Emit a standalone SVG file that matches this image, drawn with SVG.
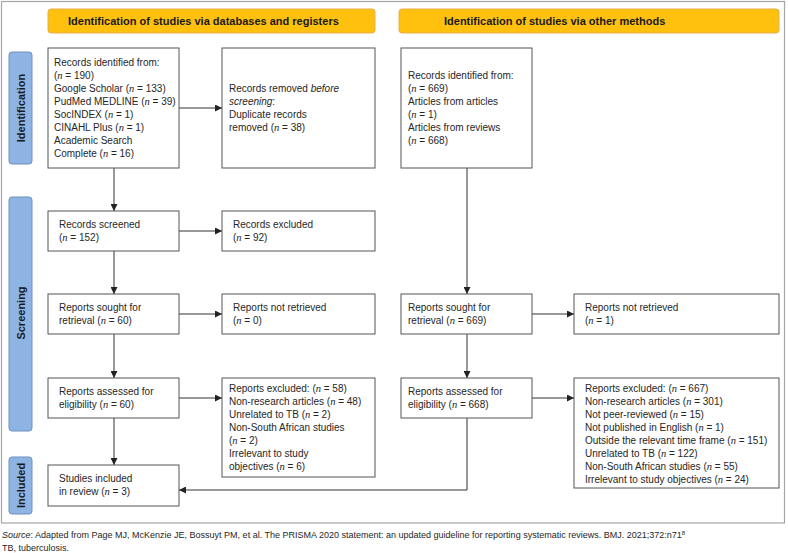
<svg xmlns="http://www.w3.org/2000/svg" width="788" height="553" viewBox="0 0 788 553">
<style>
.frame{fill:none;stroke:#a6a6a6;stroke-width:1.2}
.hdr{fill:#ffc00e;stroke:#e3b04a;stroke-width:1}
.hdrt{font-family:"Liberation Sans",Arial,sans-serif;font-size:11px;font-weight:bold;fill:#1a1a1a}
.side{fill:#8eb4e3;stroke:#6f8fbf;stroke-width:1}
.sidet{font-family:"Liberation Sans",Arial,sans-serif;font-size:11px;font-weight:bold;fill:#1a1a1a;text-anchor:middle}
.box{fill:#fff;stroke:#555;stroke-width:1}
.t{font-family:"Liberation Sans",Arial,sans-serif;font-size:10px;fill:#262626}
.n{font-family:"Liberation Serif","Times New Roman",serif;font-style:italic;font-size:10.5px}
.i{font-style:italic}
.c{fill:none;stroke:#333;stroke-width:1}
.foot{font-family:"Liberation Sans",Arial,sans-serif;font-size:9px;fill:#262626}
</style>
<defs>
<marker id="ah" viewBox="0 0 10 10" refX="10" refY="5" markerWidth="7" markerHeight="7" markerUnits="userSpaceOnUse" orient="auto">
<path d="M0,0 L10,5 L0,10 z" fill="#222"/>
</marker>
</defs>
<rect class="frame" x="1.5" y="1.5" width="783" height="521.5"/>

<g id="hdr-left"><rect class="hdr" x="48" y="9" width="327" height="24" rx="3"/><text class="hdrt" x="68" y="24.5">Identification of studies via databases and registers</text></g>
<g id="hdr-right"><rect class="hdr" x="399" y="9" width="380" height="24" rx="3"/><text class="hdrt" x="444" y="24.5">Identification of studies via other methods</text></g>

<g id="side-identification"><rect class="side" x="9" y="52" width="23" height="112" rx="3"/><text class="sidet" transform="translate(24.5,108) rotate(-90)">Identification</text></g>
<g id="side-screening"><rect class="side" x="9" y="197" width="23" height="234" rx="3"/><text class="sidet" transform="translate(24.5,313) rotate(-90)">Screening</text></g>
<g id="side-included"><rect class="side" x="9" y="457" width="23" height="57" rx="3"/><text class="sidet" transform="translate(24.5,485.5) rotate(-90)">Included</text></g>

<g id="connectors">
<line class="c" x1="179" y1="108" x2="222" y2="108" marker-end="url(#ah)"/>
<line class="c" x1="114" y1="168" x2="114" y2="211" marker-end="url(#ah)"/>
<line class="c" x1="179" y1="231" x2="222" y2="231" marker-end="url(#ah)"/>
<line class="c" x1="114" y1="251" x2="114" y2="294" marker-end="url(#ah)"/>
<line class="c" x1="179" y1="314" x2="222" y2="314" marker-end="url(#ah)"/>
<line class="c" x1="114" y1="334" x2="114" y2="378" marker-end="url(#ah)"/>
<line class="c" x1="179" y1="398" x2="222" y2="398" marker-end="url(#ah)"/>
<line class="c" x1="114" y1="418" x2="114" y2="465" marker-end="url(#ah)"/>
<line class="c" x1="467" y1="168" x2="467" y2="294" marker-end="url(#ah)"/>
<line class="c" x1="532" y1="314" x2="574" y2="314" marker-end="url(#ah)"/>
<line class="c" x1="467" y1="334" x2="467" y2="378" marker-end="url(#ah)"/>
<line class="c" x1="532" y1="398" x2="574" y2="398" marker-end="url(#ah)"/>
<polyline class="c" points="467,418 467,490 179,490" marker-end="url(#ah)"/>
</g>

<g id="records-identified"><rect class="box" x="48" y="48" width="131" height="120"/>
<text class="t" x="54" y="65.5">Records identified from:</text>
<text class="t" x="54" y="78.5">(<tspan class="n">n</tspan> = 190)</text>
<text class="t" x="54" y="91.5">Google Scholar (<tspan class="n">n</tspan> = 133)</text>
<text class="t" x="54" y="104.5">PudMed MEDLINE (<tspan class="n">n</tspan> = 39)</text>
<text class="t" x="54" y="117.5">SocINDEX (<tspan class="n">n</tspan> = 1)</text>
<text class="t" x="54" y="130.5">CINAHL Plus (<tspan class="n">n</tspan> = 1)</text>
<text class="t" x="54" y="143.5">Academic Search</text>
<text class="t" x="54" y="156.5">Complete (<tspan class="n">n</tspan> = 16)</text>
</g>
<g id="records-removed"><rect class="box" x="222" y="48" width="153" height="120"/>
<text class="t" x="229" y="92">Records removed <tspan class="i">before</tspan></text>
<text class="t" x="229" y="105"><tspan class="i">screening</tspan>:</text>
<text class="t" x="229" y="118">Duplicate records</text>
<text class="t" x="229" y="131">removed (<tspan class="n">n</tspan> = 38)</text>
</g>
<g id="records-screened"><rect class="box" x="48" y="211" width="131" height="40"/>
<text class="t" x="59" y="227.5">Records screened</text>
<text class="t" x="59" y="240.5">(<tspan class="n">n</tspan> = 152)</text>
</g>
<g id="records-excluded"><rect class="box" x="222" y="211" width="153" height="40"/>
<text class="t" x="233" y="227.5">Records excluded</text>
<text class="t" x="233" y="240.5">(<tspan class="n">n</tspan> = 92)</text>
</g>
<g id="reports-sought-1"><rect class="box" x="48" y="294" width="131" height="40"/>
<text class="t" x="59" y="311">Reports sought for</text>
<text class="t" x="59" y="324">retrieval (<tspan class="n">n</tspan> = 60)</text>
</g>
<g id="reports-not-retrieved-1"><rect class="box" x="222" y="294" width="153" height="40"/>
<text class="t" x="233" y="311">Reports not retrieved</text>
<text class="t" x="233" y="324">(<tspan class="n">n</tspan> = 0)</text>
</g>
<g id="reports-assessed-1"><rect class="box" x="48" y="378" width="131" height="40"/>
<text class="t" x="59" y="394.5">Reports assessed for</text>
<text class="t" x="59" y="407.5">eligibility (<tspan class="n">n</tspan> = 60)</text>
</g>
<g id="reports-excluded-1"><rect class="box" x="222" y="378" width="153" height="99"/>
<text class="t" x="229" y="391.5">Reports excluded: (<tspan class="n">n</tspan> = 58)</text>
<text class="t" x="229" y="404.5">Non-research articles (<tspan class="n">n</tspan> = 48)</text>
<text class="t" x="229" y="417.5">Unrelated to TB (<tspan class="n">n</tspan> = 2)</text>
<text class="t" x="229" y="430.5">Non-South African studies</text>
<text class="t" x="229" y="443.5">(<tspan class="n">n</tspan> = 2)</text>
<text class="t" x="229" y="456.5">Irrelevant to study</text>
<text class="t" x="229" y="469.5">objectives (<tspan class="n">n</tspan> = 6)</text>
</g>
<g id="studies-included"><rect class="box" x="48" y="465" width="131" height="41"/>
<text class="t" x="59" y="482">Studies included</text>
<text class="t" x="59" y="495">in review (<tspan class="n">n</tspan> = 3)</text>
</g>

<g id="other-records-identified"><rect class="box" x="401" y="48" width="131" height="120"/>
<text class="t" x="408" y="78.5">Records identified from:</text>
<text class="t" x="408" y="91.5">(<tspan class="n">n</tspan> = 669)</text>
<text class="t" x="408" y="104.5">Articles from articles</text>
<text class="t" x="408" y="117.5">(<tspan class="n">n</tspan> = 1)</text>
<text class="t" x="408" y="130.5">Articles from reviews</text>
<text class="t" x="408" y="143.5">(<tspan class="n">n</tspan> = 668)</text>
</g>
<g id="reports-sought-2"><rect class="box" x="401" y="294" width="131" height="40"/>
<text class="t" x="408" y="311">Reports sought for</text>
<text class="t" x="408" y="324">retrieval (<tspan class="n">n</tspan> = 669)</text>
</g>
<g id="reports-not-retrieved-2"><rect class="box" x="574" y="294" width="205" height="40"/>
<text class="t" x="585" y="311">Reports not retrieved</text>
<text class="t" x="585" y="324">(<tspan class="n">n</tspan> = 1)</text>
</g>
<g id="reports-assessed-2"><rect class="box" x="401" y="378" width="131" height="40"/>
<text class="t" x="408" y="394.5">Reports assessed for</text>
<text class="t" x="408" y="407.5">eligibility (<tspan class="n">n</tspan> = 668)</text>
</g>
<g id="reports-excluded-2"><rect class="box" x="574" y="378" width="205" height="110"/>
<text class="t" x="585" y="391.5">Reports excluded: (<tspan class="n">n</tspan> = 667)</text>
<text class="t" x="585" y="404.5">Non-research articles (<tspan class="n">n</tspan> = 301)</text>
<text class="t" x="585" y="417.5">Not peer-reviewed (<tspan class="n">n</tspan> = 15)</text>
<text class="t" x="585" y="430.5">Not published in English (<tspan class="n">n</tspan> = 1)</text>
<text class="t" x="585" y="443.5">Outside the relevant time frame (<tspan class="n">n</tspan> = 151)</text>
<text class="t" x="585" y="456.5">Unrelated to TB (<tspan class="n">n</tspan> = 122)</text>
<text class="t" x="585" y="469.5">Non-South African studies (<tspan class="n">n</tspan> = 55)</text>
<text class="t" x="585" y="482.5">Irrelevant to study objectives (<tspan class="n">n</tspan> = 24)</text>
</g>

<g id="footer">
<text class="foot" x="2" y="538"><tspan class="i">Source</tspan>: Adapted from Page MJ, McKenzie JE, Bossuyt PM, et al. The PRISMA 2020 statement: an updated guideline for reporting systematic reviews. BMJ. 2021;372:n71<tspan font-size="6" dy="-3.5">8</tspan></text>
<text class="foot" x="2" y="551">TB, tuberculosis.</text>
</g>
</svg>
